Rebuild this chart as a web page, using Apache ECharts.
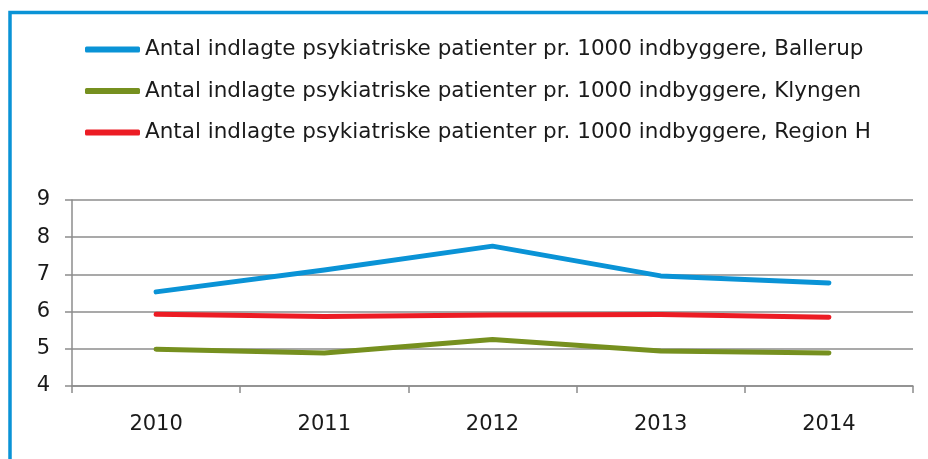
<!DOCTYPE html>
<html>
<head>
<meta charset="utf-8">
<script src="https://cdn.jsdelivr.net/npm/echarts@6/dist/echarts.min.js"></script>
<style>
html,body{margin:0;padding:0;background:#fff;}
#c{width:928px;height:459px;}
</style>
</head>
<body>
<div id="c"></div>
<script>
const years = ['2010','2011','2012','2013','2014'];
const ballerup = [6.53, 7.12, 7.76, 6.96, 6.77];
const klyngen = [4.99, 4.89, 5.25, 4.94, 4.89];
const regionH = [5.93, 5.87, 5.91, 5.92, 5.85];
const seriesNames = [
  'Antal indlagte psykiatriske patienter pr. 1000 indbyggere, Ballerup',
  'Antal indlagte psykiatriske patienter pr. 1000 indbyggere, Klyngen',
  'Antal indlagte psykiatriske patienter pr. 1000 indbyggere, Region H'
];
const colors = ['#0a93d6', '#76901f', '#ec1c24'];

const chart = echarts.init(document.getElementById('c'), null, {renderer:'canvas'});
const font = '"DejaVu Sans", Verdana, sans-serif';
const mk = (name, data, color) => ({
  name, type:'line', data, symbol:'none', smooth:false,
  lineStyle:{color, width:5, cap:'round', join:'round'},
  itemStyle:{color}
});
chart.setOption({
  animation:false,
  color: colors,
  graphic:[{
    type:'rect', shape:{x:10, y:12.5, width:1000, height:600},
    style:{fill:'none', stroke:'#0a93d6', lineWidth:3.5}, silent:true
  }],
  legend:{
    orient:'vertical', left:80, top:33.5, itemGap:19.5,
    itemWidth:55, itemHeight:6,
    icon:'roundRect',
    textStyle:{fontFamily:font, fontSize:21.5, color:'#1a1a1a'},
    data: seriesNames
  },
  grid:{left:72, right:15, top:200, bottom:73, containLabel:false},
  xAxis:{
    type:'category', data:years, boundaryGap:true,
    axisLine:{lineStyle:{color:'#8c8c8c', width:1.5}},
    axisTick:{show:true, length:7, lineStyle:{color:'#8c8c8c', width:1.5}},
    axisLabel:{fontFamily:font, fontSize:21, color:'#1a1a1a', margin:28}
  },
  yAxis:{
    type:'value', min:4, max:9, interval:1,
    axisLine:{show:true, lineStyle:{color:'#8c8c8c', width:1.5}},
    axisTick:{show:true, length:7, inside:false, lineStyle:{color:'#8c8c8c', width:1.5}},
    splitLine:{show:true, lineStyle:{color:'#8c8c8c', width:1.5}},
    axisLabel:{fontFamily:font, fontSize:21, color:'#1a1a1a', margin:22}
  },
  series:[
    mk(seriesNames[0], ballerup, colors[0]),
    mk(seriesNames[1], klyngen, colors[1]),
    mk(seriesNames[2], regionH, colors[2])
  ]
});
</script>
</body>
</html>
